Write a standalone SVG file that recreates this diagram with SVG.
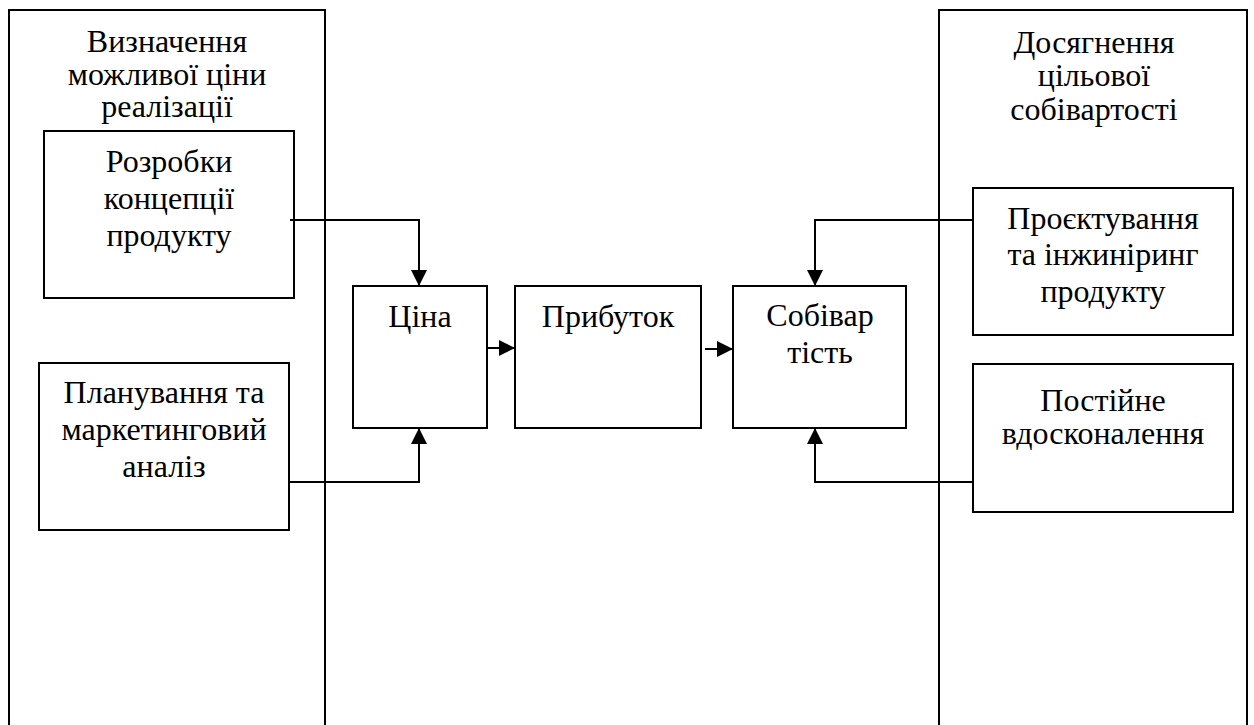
<svg xmlns="http://www.w3.org/2000/svg" width="1254" height="725" viewBox="0 0 1254 725">
  <style>
    .box { fill: #ffffff; stroke: #000000; stroke-width: 2; }
    .panel { fill: none; stroke: #000000; stroke-width: 2; }
    .lbl { font-family: "Liberation Serif", "Times New Roman", serif; font-size: 32px; fill: #000000; text-anchor: middle; }
    .wire { fill: none; stroke: #000000; stroke-width: 2; }
  </style>
  <defs>
    <marker id="arrow" viewBox="0 0 16 16" refX="15" refY="8" markerWidth="16" markerHeight="16" markerUnits="userSpaceOnUse" orient="auto">
      <path d="M0,0 L16,8 L0,16 Z" fill="#000000"/>
    </marker>
  </defs>
  <rect width="1254" height="725" fill="#ffffff"/>

  <!-- left column: price side -->
  <g id="panel-price">
    <path class="panel" d="M9,730 V10 H325 V730"/>
    <text class="lbl" x="167" y="52">Визначення</text>
    <text class="lbl" x="167" y="85">можливої ціни</text>
    <text class="lbl" x="167" y="117">реалізації</text>
  </g>

  <!-- right column: cost side -->
  <g id="panel-cost">
    <path class="panel" d="M939,730 V10 H1247 V730"/>
    <text class="lbl" x="1094" y="53">Досягнення</text>
    <text class="lbl" x="1094" y="86">цільової</text>
    <text class="lbl" x="1094" y="120">собівартості</text>
  </g>

  <g id="node-concept">
    <rect class="box" x="44" y="131" width="250" height="167"/>
    <text class="lbl" x="169" y="172">Розробки</text>
    <text class="lbl" x="169" y="209">концепції</text>
    <text class="lbl" x="169" y="246">продукту</text>
  </g>

  <g id="node-marketing">
    <rect class="box" x="39" y="363" width="250" height="167"/>
    <text class="lbl" x="164" y="403">Планування та</text>
    <text class="lbl" x="164" y="440">маркетинговий</text>
    <text class="lbl" x="164" y="477">аналіз</text>
  </g>

  <g id="node-price">
    <rect class="box" x="353" y="286" width="134" height="142"/>
    <text class="lbl" x="420" y="327">Ціна</text>
  </g>

  <g id="node-profit">
    <rect class="box" x="515" y="286" width="186" height="142"/>
    <text class="lbl" x="608" y="327">Прибуток</text>
  </g>

  <g id="node-cost">
    <rect class="box" x="733" y="286" width="173" height="142"/>
    <text class="lbl" x="820" y="326">Собівар</text>
    <text class="lbl" x="820" y="363">тість</text>
  </g>

  <g id="node-design">
    <rect class="box" x="973" y="188" width="260" height="147"/>
    <text class="lbl" x="1103" y="229">Проєктування</text>
    <text class="lbl" x="1103" y="265">та інжиніринг</text>
    <text class="lbl" x="1103" y="302">продукту</text>
  </g>

  <g id="node-kaizen">
    <rect class="box" x="973" y="364" width="260" height="148"/>
    <text class="lbl" x="1103" y="411">Постійне</text>
    <text class="lbl" x="1103" y="444">вдосконалення</text>
  </g>

  <g id="connectors">
    <path class="wire" d="M290,220 H419 V285" marker-end="url(#arrow)"/>
    <path class="wire" d="M289,482 H419 V429" marker-end="url(#arrow)"/>
    <path class="wire" d="M488,348 H514" marker-end="url(#arrow)"/>
    <path class="wire" d="M705,349 H732" marker-end="url(#arrow)"/>
    <path class="wire" d="M973,220 H815 V285" marker-end="url(#arrow)"/>
    <path class="wire" d="M973,482 H815 V429" marker-end="url(#arrow)"/>
  </g>
</svg>
